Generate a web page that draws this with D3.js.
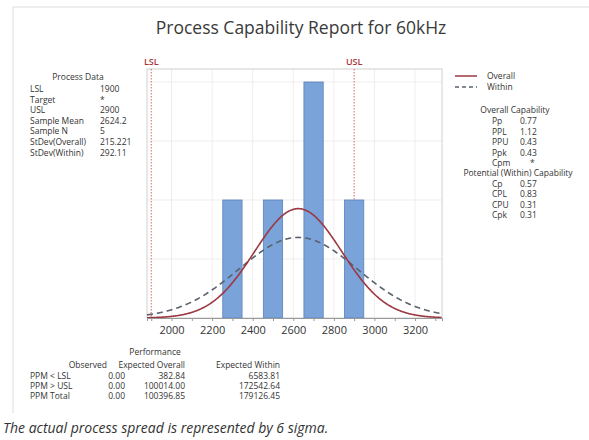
<!DOCTYPE html>
<html>
<head>
<meta charset="utf-8">
<script src="https://cdn.jsdelivr.net/npm/d3@7"></script>
<style>
  body { margin: 0; background: #fff; }
  svg text { font-family: "Open Sans", "Noto Sans", sans-serif; fill: #333; }
</style>
</head>
<body>
<div id="chart"></div>
<script>
// histogram of the 5 samples
const binCenters = [2300, 2500, 2700, 2900];
const binCounts = [1, 1, 2, 1];
const binWidth = 100;
const xTicks = [2000, 2200, 2400, 2600, 2800, 3000, 3200];
const lsl = 1900, usl = 2900;
const sampleMean = 2624.2, sampleN = 5;
const sdOverall = 215.221, sdWithin = 292.11;

const processLabels = ["LSL", "Target", "USL", "Sample Mean", "Sample N", "StDev(Overall)", "StDev(Within)"];
const processValues = ["1900", "*", "2900", "2624.2", "5", "215.221", "292.11"];
const overallLabels = ["Pp", "PPL", "PPU", "Ppk", "Cpm"];
const overallValues = ["0.77", "1.12", "0.43", "0.43", "*"];
const withinLabels = ["Cp", "CPL", "CPU", "Cpk"];
const withinValues = ["0.57", "0.83", "0.31", "0.31"];
const perfRows = ["PPM < LSL", "PPM > USL", "PPM Total"];
const perfObserved = ["0.00", "0.00", "0.00"];
const perfExpOverall = ["382.84", "100014.00", "100396.85"];
const perfExpWithin = ["6583.81", "172542.64", "179126.45"];

const W = 589, H = 440;
const plot = { left: 147, right: 442, top: 69, bottom: 318 };

const svg = d3.select("#chart").append("svg")
  .attr("width", W).attr("height", H);

// outer frame (top + left edges)
svg.append("path")
  .attr("d", `M13,413 L13,7 L${W},7`)
  .attr("fill", "none").attr("stroke", "#dcdcdc");

svg.append("text")
  .attr("x", 301).attr("y", 34)
  .attr("text-anchor", "middle")
  .style("font-size", "17.5px").style("fill", "#3a3a3a")
  .text("Process Capability Report for 60kHz");

const x = d3.scaleLinear().domain([1879, 3333]).range([plot.left, plot.right]);
const y = d3.scaleLinear().domain([0, 2.11]).range([plot.bottom, plot.top]);

// grid
const g = svg.append("g");
g.selectAll(".vg").data(xTicks).enter().append("line")
  .attr("x1", d => x(d)).attr("x2", d => x(d))
  .attr("y1", plot.top).attr("y2", plot.bottom)
  .attr("stroke", "#f0ecec");
g.selectAll(".hg").data([0.5, 1, 1.5, 2]).enter().append("line")
  .attr("x1", plot.left).attr("x2", plot.right)
  .attr("y1", d => y(d)).attr("y2", d => y(d))
  .attr("stroke", "#f0ecec");

// plot frame
g.append("rect")
  .attr("x", plot.left).attr("y", plot.top)
  .attr("width", plot.right - plot.left).attr("height", plot.bottom - plot.top)
  .attr("fill", "none").attr("stroke", "#cfcfcf");

// spec limits
[[lsl, "LSL"], [usl, "USL"]].forEach(([v, name]) => {
  g.append("line")
    .attr("x1", x(v)).attr("x2", x(v))
    .attr("y1", plot.top).attr("y2", plot.bottom)
    .attr("stroke", "#d98080").attr("stroke-width", 1.2)
    .attr("stroke-dasharray", "1.5,1.5");
  g.append("text")
    .attr("x", x(v)).attr("y", 65)
    .attr("text-anchor", "middle")
    .style("font-size", "9px").style("font-weight", "600").style("fill", "#a8343a")
    .text(name);
});

// bars
g.selectAll(".bar").data(binCenters).enter().append("rect")
  .attr("x", d => x(d - binWidth / 2) + 0.5)
  .attr("width", d => x(d + binWidth / 2) - x(d - binWidth / 2) - 1)
  .attr("y", (d, i) => y(binCounts[i]))
  .attr("height", (d, i) => y(0) - y(binCounts[i]))
  .attr("fill", "#7aa3da").attr("stroke", "#5b82bb").attr("stroke-width", 0.8);

// fitted normal curves, scaled to counts
function normal(mu, sd) {
  const xs = d3.range(1879, 3334, 4);
  return xs.map(v => [v, sampleN * binWidth * Math.exp(-0.5 * ((v - mu) / sd) ** 2) / (sd * Math.sqrt(2 * Math.PI))]);
}
const line = d3.line().x(d => x(d[0])).y(d => y(d[1])).curve(d3.curveBasis);
g.append("path").attr("d", line(normal(sampleMean, sdWithin)))
  .attr("fill", "none").attr("stroke", "#5a626c").attr("stroke-width", 1.6)
  .attr("stroke-dasharray", "6,4");
g.append("path").attr("d", line(normal(sampleMean, sdOverall)))
  .attr("fill", "none").attr("stroke", "#9c3842").attr("stroke-width", 1.6);

// x axis
const xAxis = svg.append("g")
  .attr("transform", `translate(0,${plot.bottom})`)
  .call(d3.axisBottom(x).tickValues(d3.range(1900, 3301, 100))
    .tickSize(3).tickFormat(d => xTicks.includes(d) ? d : ""));
xAxis.select(".domain").attr("stroke", "#999");
xAxis.selectAll(".tick line").attr("stroke", "#999");
xAxis.selectAll("text").style("font-size", "11px").style("fill", "#333").attr("dy", "0.9em");

// legend
const leg = svg.append("g");
leg.append("line").attr("x1", 455).attr("x2", 477).attr("y1", 76).attr("y2", 76)
  .attr("stroke", "#9c3842").attr("stroke-width", 1.5);
leg.append("line").attr("x1", 455).attr("x2", 477).attr("y1", 87).attr("y2", 87)
  .attr("stroke", "#5a626c").attr("stroke-width", 1.5).attr("stroke-dasharray", "4,3");
leg.append("text").attr("x", 487).attr("y", 79).style("font-size", "8.5px").text("Overall");
leg.append("text").attr("x", 487).attr("y", 90).style("font-size", "8.5px").text("Within");

// process data table
const pd = svg.append("g").style("font-size", "8.5px");
pd.append("text").attr("x", 78).attr("y", 80).attr("text-anchor", "middle").text("Process Data");
processLabels.forEach((t, i) => {
  pd.append("text").attr("x", 30).attr("y", 92 + i * 10.6).text(t);
  pd.append("text").attr("x", 100).attr("y", 92 + i * 10.6).text(processValues[i]);
});

// capability tables
const cap = svg.append("g").style("font-size", "8.5px");
cap.append("text").attr("x", 515).attr("y", 113).attr("text-anchor", "middle").text("Overall Capability");
overallLabels.forEach((t, i) => {
  cap.append("text").attr("x", 492).attr("y", 124 + i * 10.5).text(t);
  cap.append("text").attr("x", overallValues[i] === "*" ? 530 : 520).attr("y", 124 + i * 10.5).text(overallValues[i]);
});
cap.append("text").attr("x", 518).attr("y", 176).attr("text-anchor", "middle").text("Potential (Within) Capability");
withinLabels.forEach((t, i) => {
  cap.append("text").attr("x", 492).attr("y", 187 + i * 10.4).text(t);
  cap.append("text").attr("x", 520).attr("y", 187 + i * 10.4).text(withinValues[i]);
});

// performance table
const pf = svg.append("g").style("font-size", "8.5px");
pf.append("text").attr("x", 155).attr("y", 355).attr("text-anchor", "middle").text("Performance");
pf.append("text").attr("x", 107).attr("y", 368).attr("text-anchor", "end").text("Observed");
pf.append("text").attr("x", 185).attr("y", 368).attr("text-anchor", "end").text("Expected Overall");
pf.append("text").attr("x", 280).attr("y", 368).attr("text-anchor", "end").text("Expected Within");
perfRows.forEach((t, i) => {
  const yy = 378.5 + i * 10;
  pf.append("text").attr("x", 30).attr("y", yy).text(t);
  pf.append("text").attr("x", 125).attr("y", yy).attr("text-anchor", "end").text(perfObserved[i]);
  pf.append("text").attr("x", 185).attr("y", yy).attr("text-anchor", "end").text(perfExpOverall[i]);
  pf.append("text").attr("x", 280).attr("y", yy).attr("text-anchor", "end").text(perfExpWithin[i]);
});

svg.append("text")
  .attr("x", 3).attr("y", 433)
  .style("font-size", "14px").style("font-style", "italic").style("fill", "#333")
  .text("The actual process spread is represented by 6 sigma.");
</script>
</body>
</html>
